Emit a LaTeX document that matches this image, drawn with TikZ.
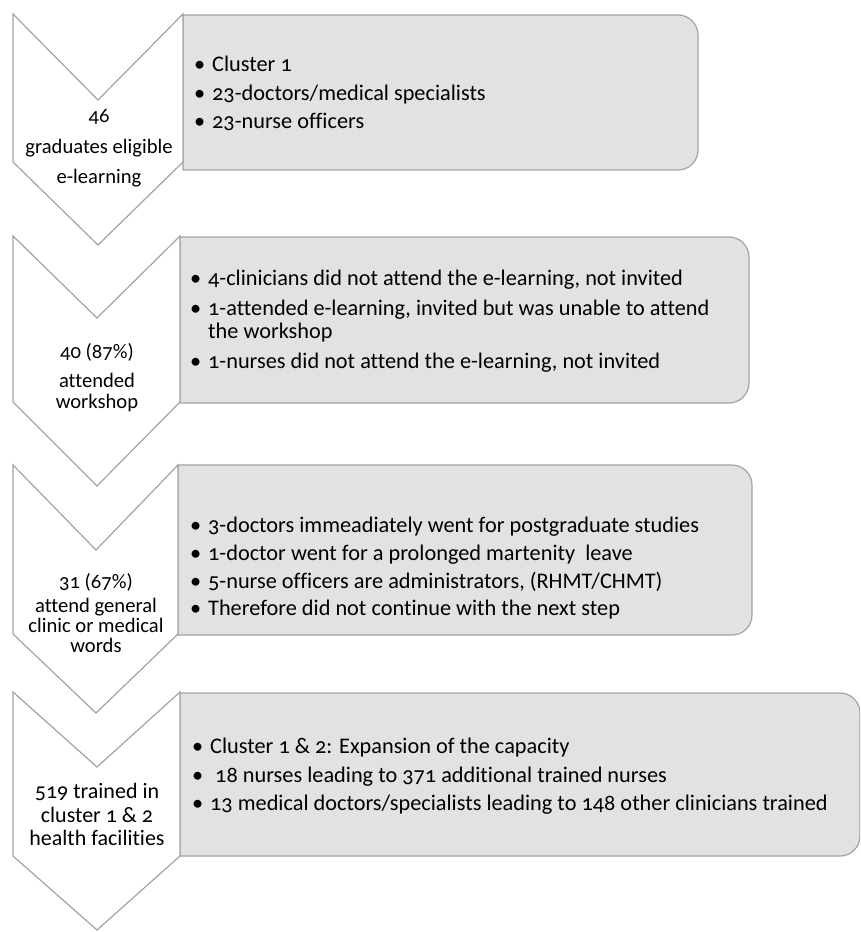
\documentclass[tikz,border=0pt]{standalone}
\usepackage{fontspec}
\setmainfont{Carlito}[Numbers=OldStyle,Ligatures=NoCommon]
\definecolor{panelfill}{RGB}{226,226,226}
\definecolor{edgegray}{RGB}{163,163,163}
\newcommand\panelbox[4]{\draw[panel] (#1,#2) -- ({#3-20},#2) arc[start angle=90,end angle=0,radius=20pt] -- (#3,{#4-20}) arc[start angle=0,end angle=-90,radius=20pt] -- (#1,#4) -- cycle;}
% L R C Top Notch Side Tip
\newcommand\chevshape[7]{\draw[chev] (#1,#4) -- (#3,#5) -- (#2,#4) -- (#2,#6) -- (#3,#7) -- (#1,#6) -- cycle;}
\newcommand\bul{\llap{\textbullet\hspace{7pt}}}
\begin{document}
\begin{tikzpicture}[x=1pt,y=-1pt,
  chev/.style={draw=edgegray, fill=white, line width=1.2pt, line join=miter},
  panel/.style={draw=edgegray, fill=panelfill, line width=1.2pt},
  ctext/.style={anchor=base, font=\fontsize{20.6}{24}\selectfont, inner sep=0pt, text=black},
  cbig/.style={anchor=base, font=\fontsize{22}{26}\selectfont, inner sep=0pt, text=black},
  btext/.style={anchor=base west, font=\fontsize{22.3}{26}\selectfont, inner sep=0pt, text=black}]
\useasboundingbox (0,0) rectangle (860,932);
\clip (0,0) rectangle (860,932);

% panels
\panelbox{183}{15}{698}{170}
\panelbox{180}{237}{749}{403}
\panelbox{178}{465}{752}{635}
\panelbox{180}{693}{860}{856}

% chevrons
\chevshape{13}{183}{98}{14}{100}{162}{245}
\chevshape{13}{180}{97}{236}{318}{402}{486}
\chevshape{13}{178}{96}{465}{550}{634}{713}
\chevshape{13}{180}{97}{692}{767}{856}{930}

% chevron texts
\node[ctext] (c1a) at (99,122) {46};
\node[ctext] (c1b) at (99,153) {graduates eligible};
\node[ctext] (c1c) at (99,183) {e-learning};

\node[ctext] (c2a) at (97,358) {40 (87\%)};
\node[ctext] (c2b) at (97,387) {attended};
\node[ctext] (c2c) at (97,408) {workshop};

\node[ctext] (c3a) at (96,588) {31 (67\%)};
\node[ctext] (c3b) at (96,612) {attend general};
\node[ctext] (c3c) at (96,632) {clinic or medical};
\node[ctext] (c3d) at (96,652) {words};

\node[cbig] (c4a) at (97,798) {519 trained in};
\node[cbig] (c4b) at (97,822) {cluster 1 \& 2};
\node[cbig] (c4c) at (97,845) {health facilities};

% panel texts
\node[btext] (b1a) at (212,71) {\bul Cluster 1};
\node[btext] (b1b) at (212,100) {\bul 23-doctors/medical specialists};
\node[btext] (b1c) at (212,128) {\bul 23-nurse officers};

\node[btext] (b2a) at (208,285) {\bul 4-clinicians did not attend the e-learning, not invited};
\node[btext] (b2b) at (208,315) {\bul 1-attended e-learning, invited but was unable to attend};
\node[btext] (b2c) at (208,338) {the workshop};
\node[btext] (b2d) at (208,368) {\bul 1-nurses did not attend the e-learning, not invited};

\node[btext] (b3a) at (208,532) {\bul 3-doctors immeadiately went for postgraduate studies};
\node[btext] (b3b) at (208,560) {\bul 1-doctor went for a prolonged martenity\ \ leave};
\node[btext] (b3c) at (208,588) {\bul 5-nurse officers are administrators, (RHMT/CHMT)};
\node[btext] (b3d) at (208,615) {\bul Therefore did not continue with the next step};

\node[btext] (b4a) at (210,753) {\bul Cluster 1 \& 2: Expansion of the capacity};
\node[btext] (b4b) at (210,782) {\bul\ 18 nurses leading to 371 additional trained nurses};
\node[btext] (b4c) at (210,810) {\bul 13 medical doctors/specialists leading to 148 other clinicians trained};
\end{tikzpicture}
\end{document}
